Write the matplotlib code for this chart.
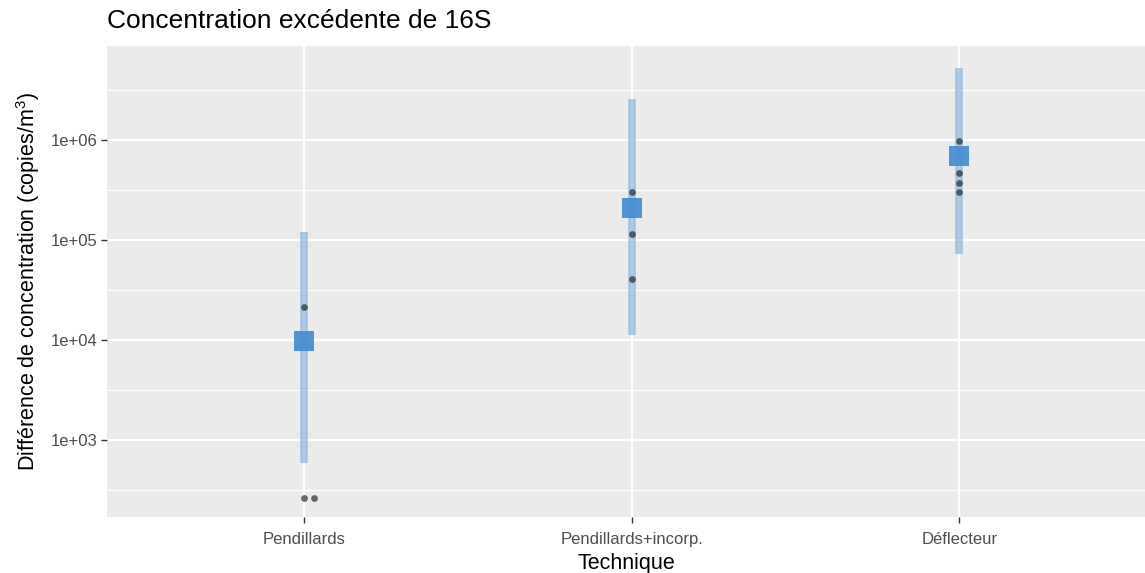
import numpy as np
import matplotlib
matplotlib.use("Agg")
import matplotlib.pyplot as plt

plt.rcParams['font.family'] = ['Liberation Sans', 'DejaVu Sans']
plt.rcParams['mathtext.fontset'] = 'custom'
plt.rcParams['mathtext.rm'] = 'Liberation Sans'
plt.rcParams['mathtext.it'] = 'Liberation Sans'

# techniques et valeurs (copies/m3)
techniques = ['Pendillards', 'Pendillards+incorp.', 'Déflecteur']
moyenne = [9.8e3, 2.09e5, 6.84e5]
ic_bas = [585, 1.12e4, 7.24e4]
ic_haut = [1.19e5, 2.55e6, 5.21e6]

# observations individuelles (index de technique, valeur, decalage horizontal)
obs_tech = [0, 0, 0, 1, 1, 1, 2, 2, 2, 2]
obs_val = [2.12e4, 265, 265, 3.04e5, 1.14e5, 4.07e4, 9.84e5, 4.71e5, 3.74e5, 3.04e5]
obs_dx = [0, 0, 0.03, 0, 0, 0, 0, 0, 0, 0]

W, H = 1145, 573
fig = plt.figure(figsize=(W / 100, H / 100), dpi=100)
ax = fig.add_axes([107 / W, 1 - 517 / H, 1 - 107 / W, (517 - 46) / H])
ax.set_facecolor('#ebebeb')

ax.set_yscale('log')
ax.set_ylim(10 ** 2.23, 10 ** 6.94)
ax.set_xlim(0.4, 3.566)

# grille facon ggplot
ax.set_yticks([1e3, 1e4, 1e5, 1e6])
ax.set_yticklabels(['1e+03', '1e+04', '1e+05', '1e+06'])
ax.set_yticks([10 ** (k + 0.5) for k in range(2, 7)], minor=True)
ax.yaxis.set_minor_formatter(matplotlib.ticker.NullFormatter())
ax.grid(which='major', color='white', linewidth=1.6)
ax.grid(which='minor', axis='y', color='white', linewidth=0.8)
ax.set_axisbelow(True)
ax.tick_params(which='minor', length=0)

x = np.arange(1, len(techniques) + 1)
ax.set_xticks(x)
ax.set_xticklabels(techniques)

ax.tick_params(which='major', length=4, width=1, color='#333333',
               labelsize=12, labelcolor='#4d4d4d', pad=3)
ax.tick_params(axis='x', pad=7)
for s in ax.spines.values():
    s.set_visible(False)

# intervalles
ax.vlines(x, ic_bas, ic_haut, color='#6aa3db', alpha=0.55, linewidth=5.5, zorder=2)
# points observes
ox = np.array(obs_tech) + 1 + np.array(obs_dx)
ax.scatter(ox, obs_val, s=24, color='#1e1e1e', alpha=0.65, linewidths=0, zorder=3)
# moyennes
ax.scatter(x, moyenne, s=190, marker='s', color='#4a8fd2', alpha=0.95,
           linewidths=0, zorder=4)

ax.set_xlabel('Technique', fontsize=15.5, labelpad=4)
ax.set_ylabel('Différence de concentration (copies/m$^{3}$)', fontsize=15.5, labelpad=6)
fig.text(107 / W, 1 - 21 / H, 'Concentration excédente de 16S', fontsize=19,
         va='center', ha='left')

fig.savefig('out.png', dpi=100)
